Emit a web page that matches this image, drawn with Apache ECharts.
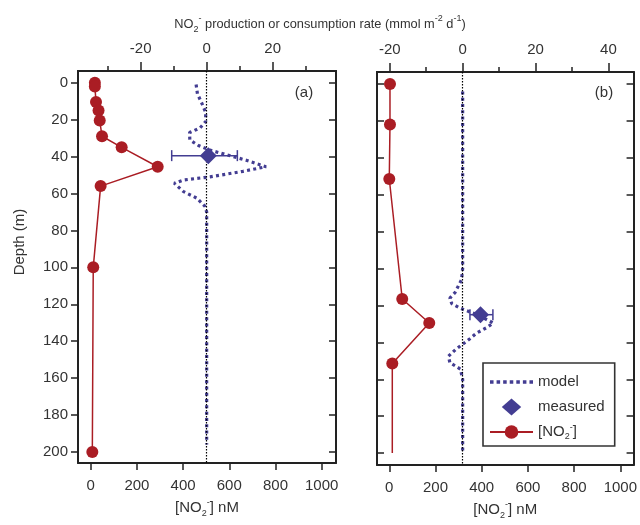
<!DOCTYPE html>
<html>
<head>
<meta charset="utf-8">
<script src="https://cdn.jsdelivr.net/npm/echarts@6/dist/echarts.min.js"></script>
<style>
html, body { margin: 0; padding: 0; background: #fff; }
#chart { width: 640px; height: 525px; }
</style>
</head>
<body>
<div id="chart"></div>
<script>
// panel (a): nitrite profile (nM) and model / measured rate
const depthA = [0, 2, 10.5, 15, 20.5, 29, 35, 45.5, 56, 100, 200];
const no2A = [18, 18, 23, 34, 39, 49, 134, 290, 43, 11, 7];
const modelDepthA = [1, 6, 11, 16, 21, 24.5, 27, 31, 34, 36.5, 39, 42, 45.5, 48, 51, 52.7, 54.5, 59, 62.5, 67, 70, 100, 150, 196];
const modelRateA = [-3.2, -2.8, -1.5, -0.3, -0.3, -2, -5.2, -5.1, -2.5, 1, 6, 12, 18, 11, 1, -7, -9.8, -7, -3, -0.5, 0, 0, 0, 0];
const measDepthA = [39.5];
const measRateA = [0.5];
const measLowA = [-10.6];
const measHighA = [9.3];

// panel (b)
const depthB = [0, 22, 51.5, 116.5, 129.5, 151.5, 200];
const no2B = [3, 3, 0, 56, 173, 13, 13];
const modelDepthB = [4, 100, 106, 113, 116, 119, 121.5, 125, 129.5, 132, 135, 138, 141, 144, 147.5, 151, 154.5, 160, 200];
const modelRateB = [0, 0, -0.3, -2.1, -3.5, -3, -0.7, 4, 8.4, 6.6, 3.8, 2, 0, -2, -3.9, -3.5, -0.6, 0, 0];
const measDepthB = [125];
const measRateB = [4.9];
const measLowB = [2];
const measHighB = [8.3];

// ticks
const nmTicks = [0, 200, 400, 600, 800, 1000];
const depthTicks = [0, 20, 40, 60, 80, 100, 120, 140, 160, 180, 200];
const rateMajorA = [-20, 0, 20];
const rateMinorA = [-30, -10, 10, 30];
const rateMajorB = [-20, 0, 20, 40];
const rateMinorB = [-10, 10, 30];

const font = "'Liberation Sans', Arial, sans-serif";
const textColor = '#333';
const axisColor = '#222';
const red = '#aa1d24';
const blue = '#433d92';

const rich = {
  sub: { fontSize: 9, verticalAlign: 'bottom', fontFamily: font, color: textColor },
  sup: { fontSize: 9, verticalAlign: 'top', fontFamily: font, color: textColor }
};

// legend icons: a row of square dots, and a diamond
const dotsIcon = 'path://M0,0h3.5v3.5h-3.5z M6.5,0h3.5v3.5h-3.5z M13,0h3.5v3.5h-3.5z M19.5,0h3.5v3.5h-3.5z M26,0h3.5v3.5h-3.5z M32.5,0h3.5v3.5h-3.5z M39,0h3.5v3.5h-3.5z';
const diamondIcon = 'path://M8,0 L16,7 L8,14 L0,7 Z';

function plain(v) { return String(v); }

function xNm(grid, min, max) {
  return {
    type: 'value', gridIndex: grid, position: 'bottom', min: min, max: max,
    axisLine: { show: true, onZero: false, lineStyle: { color: axisColor, width: 2 } },
    axisTick: { show: true, length: 7, customValues: nmTicks, lineStyle: { color: axisColor, width: 1.5 } },
    axisLabel: { customValues: nmTicks, formatter: plain, margin: 15, color: textColor, fontSize: 15, fontFamily: font },
    splitLine: { show: false },
    name: '[NO{sub|2}{sup|-}] nM', nameLocation: 'middle', nameGap: 33,
    nameTextStyle: { color: textColor, fontSize: 15, fontFamily: font, lineHeight: 20, rich: rich }
  };
}

function xRate(grid, min, max, ticks, len, labels) {
  return {
    type: 'value', gridIndex: grid, position: 'top', min: min, max: max,
    axisLine: { show: true, onZero: false, lineStyle: { color: axisColor, width: 2 } },
    axisTick: { show: true, length: len, customValues: ticks, lineStyle: { color: axisColor, width: 1.5 } },
    axisLabel: { show: labels, customValues: ticks, formatter: plain, margin: 15, color: textColor, fontSize: 15, fontFamily: font },
    splitLine: { show: false }
  };
}

function yDepth(grid, pos, min, max, inside, labels) {
  return {
    type: 'value', gridIndex: grid, position: pos, inverse: true, min: min, max: max,
    axisLine: { show: true, onZero: false, lineStyle: { color: axisColor, width: 2 } },
    axisTick: { show: true, inside: inside, length: 7, customValues: depthTicks, lineStyle: { color: axisColor, width: 1.5 } },
    axisLabel: { show: labels, customValues: depthTicks, formatter: plain, margin: 10, color: textColor, fontSize: 15, fontFamily: font },
    splitLine: { show: false }
  };
}

function errBar(params, api) {
  const y = api.value(2);
  const p1 = api.coord([api.value(0), y]);
  const p2 = api.coord([api.value(1), y]);
  const cap = 5.5;
  const style = { stroke: blue, lineWidth: 1.5 };
  return {
    type: 'group',
    children: [
      { type: 'line', shape: { x1: p1[0], y1: p1[1], x2: p2[0], y2: p2[1] }, style: style },
      { type: 'line', shape: { x1: p1[0], y1: p1[1] - cap, x2: p1[0], y2: p1[1] + cap }, style: style },
      { type: 'line', shape: { x1: p2[0], y1: p2[1] - cap, x2: p2[0], y2: p2[1] + cap }, style: style }
    ]
  };
}

function panelSeries(xNmIdx, xRateIdx, yIdx, depth, no2, mDepth, mRate, eDepth, eRate, eLow, eHigh, lastBare) {
  return [
    {
      type: 'line', name: 'model', xAxisIndex: xRateIdx, yAxisIndex: yIdx,
      data: mRate.map((r, i) => [r, mDepth[i]]),
      symbol: 'none', z: 3,
      lineStyle: { color: blue, width: 3.2, type: [3, 3.3], cap: 'butt' },
      itemStyle: { color: blue },
      markLine: {
        silent: true, symbol: 'none', label: { show: false },
        lineStyle: { color: '#000', width: 1.2, type: [1.5, 1.5] },
        data: [{ xAxis: 0 }]
      }
    },
    {
      type: 'custom', name: 'err', xAxisIndex: xRateIdx, yAxisIndex: yIdx, z: 4,
      data: eDepth.map((d, i) => [eLow[i], eHigh[i], d]),
      encode: { x: [0, 1], y: 2 },
      renderItem: errBar
    },
    {
      type: 'scatter', name: 'measured', xAxisIndex: xRateIdx, yAxisIndex: yIdx, z: 5,
      data: eDepth.map((d, i) => [eRate[i], d]),
      symbol: 'diamond', symbolSize: 17,
      itemStyle: { color: blue, opacity: 1 }
    },
    {
      type: 'line', name: '[NO2-]', xAxisIndex: xNmIdx, yAxisIndex: yIdx, z: 6,
      data: no2.map((v, i) => (lastBare && i === no2.length - 1)
        ? { value: [v, depth[i]], symbol: 'none' }
        : [v, depth[i]]),
      symbol: 'circle', symbolSize: 12, showAllSymbol: true,
      lineStyle: { color: red, width: 1.5 },
      itemStyle: { color: red }
    }
  ];
}

const chart = echarts.init(document.getElementById('chart'), null, { renderer: 'canvas' });

chart.setOption({
  animation: false,
  backgroundColor: '#fff',
  title: {
    text: 'NO{sub|2}{sup|-} production or consumption rate (mmol m{sup|-2} d{sup|-1})',
    left: 'center', top: 9,
    textStyle: { fontSize: 12.8, fontWeight: 'normal', color: textColor, fontFamily: font, lineHeight: 20, rich: rich }
  },
  grid: [
    { left: 78, top: 71, width: 258, height: 392 },
    { left: 377, top: 72, width: 257, height: 394 }
  ],
  xAxis: [
    xNm(0, -55, 1062),
    xRate(0, -39, 39.2, rateMajorA, 9, true),
    xRate(0, -39, 39.2, rateMinorA, 5, false),
    xNm(1, -53.2, 1057.4),
    xRate(1, -23.5, 46.9, rateMajorB, 9, true),
    xRate(1, -23.5, 46.9, rateMinorB, 5, false)
  ],
  yAxis: [
    yDepth(0, 'left', -6.34, 205.96, false, true),
    yDepth(0, 'right', -6.34, 205.96, true, false),
    yDepth(1, 'left', -6.5, 206.5, true, false),
    yDepth(1, 'right', -6.5, 206.5, true, false)
  ],
  legend: {
    data: [
      { name: 'model', icon: dotsIcon },
      { name: 'measured', icon: diamondIcon },
      { name: '[NO2-]' }
    ],
    orient: 'vertical', left: 483, top: 363,
    padding: [10, 10, 5, 6],
    itemWidth: 43, itemHeight: 17, itemGap: 7,
    symbolKeepAspect: true,
    borderColor: '#333', borderWidth: 1.6,
    selectedMode: false,
    formatter: n => n === '[NO2-]' ? '[NO{sub|2}{sup|-}]' : n,
    textStyle: { fontSize: 15, color: textColor, fontFamily: font, lineHeight: 18, rich: rich }
  },
  graphic: [
    { type: 'text', x: 20, y: 242, rotation: Math.PI / 2,
      style: { text: 'Depth (m)', fill: textColor, font: '15px ' + font, align: 'center', verticalAlign: 'middle' } },
    { type: 'text', x: 304, y: 93,
      style: { text: '(a)', fill: textColor, font: '15px ' + font, align: 'center', verticalAlign: 'middle' } },
    { type: 'text', x: 604, y: 93,
      style: { text: '(b)', fill: textColor, font: '15px ' + font, align: 'center', verticalAlign: 'middle' } }
  ],
  series: [].concat(
    panelSeries(0, 1, 0, depthA, no2A, modelDepthA, modelRateA, measDepthA, measRateA, measLowA, measHighA, false),
    panelSeries(3, 4, 2, depthB, no2B, modelDepthB, modelRateB, measDepthB, measRateB, measLowB, measHighB, true)
  )
});
</script>
</body>
</html>
